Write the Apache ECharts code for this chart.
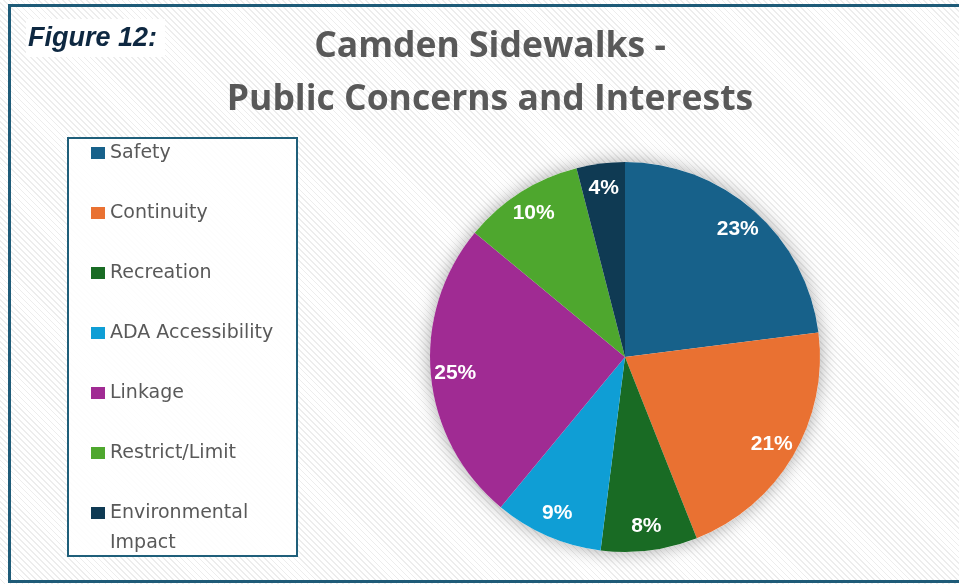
<!DOCTYPE html>
<html><head><meta charset="utf-8">
<script src="https://cdn.jsdelivr.net/npm/echarts@6/dist/echarts.min.js"></script>
<style>
html,body{margin:0;padding:0;}
body{width:959px;height:584px;overflow:hidden;background:repeating-linear-gradient(45deg,#ffffff 0px,#ffffff 3px,#ededed 3px,#ededed 4.2px);}
#chart{width:959px;height:584px;}
</style></head><body><div id="chart"></div>
<script>
const categories = ['Safety','Continuity','Recreation','ADA Accessibility','Linkage','Restrict/Limit','Environmental Impact'];
const values = [23, 21, 8, 9, 25, 10, 4];
const colors = ['#17618A','#E97132','#196B24','#0F9ED5','#A02B93','#4EA72E','#0F3A53'];
const titleText = 'Camden Sidewalks -\nPublic Concerns and Interests';
const figureLabel = 'Figure 12:';

const pieData = categories.map((c, i) => ({ name: c, value: values[i], itemStyle: { color: colors[i] } }));

const chart = echarts.init(document.getElementById('chart'), null, { renderer: 'canvas' });
chart.setOption({
  backgroundColor: 'transparent',
  animation: false,
  title: {
    text: titleText,
    left: 490,
    top: 20,
    padding: 0,
    textAlign: 'center',
    textStyle: { fontFamily: 'Open Sans', fontWeight: 'bold', fontSize: 35.5, color: '#595959', lineHeight: 53 }
  },
  graphic: [
    { type: 'rect', z: -10, shape: { x: 9.5, y: 5.5, width: 960, height: 576 }, style: { fill: 'none', stroke: '#1E5B78', lineWidth: 3 } },
    { type: 'rect', z: -10, shape: { x: 68, y: 138, width: 229, height: 418 }, style: { fill: 'rgba(255,255,255,0.85)', stroke: '#1F5F7A', lineWidth: 2 } },
    { type: 'rect', z: -10, shape: { x: 26, y: 19, width: 139, height: 38 }, style: { fill: '#ffffff' } },
    { type: 'text', z: 10, x: 28, y: 39, style: { text: figureLabel, fill: '#0E2841', font: 'italic bold 27px "Liberation Sans"', verticalAlign: 'middle', align: 'left' } }
  ],
  legend: {
    orient: 'vertical',
    left: 91,
    top: 108,
    height: 600,
    padding: 0,
    itemGap: -30,
    itemWidth: 14,
    itemHeight: 12,
    icon: 'rect',
    selectedMode: false,
    data: categories,
    formatter: name => name === 'Environmental Impact' ? '{e|}\n{t|Environmental}\n{t|Impact}' : '{e|}\n{t|' + name + '}\n{e|}',
    textStyle: {
      fontFamily: 'DejaVu Sans', fontSize: 19, color: '#595959', lineHeight: 30,
      rich: {
        t: { fontFamily: 'DejaVu Sans', fontSize: 19, color: '#595959', lineHeight: 30 },
        e: { fontSize: 19, lineHeight: 30, width: 1 }
      }
    }
  },
  series: [
    {
      type: 'pie', silent: true, z: 1,
      center: [625, 357], radius: 195,
      data: [{ name: '', value: 1 }],
      itemStyle: { color: '#ffffff', shadowBlur: 18, shadowColor: 'rgba(0,0,0,0.35)' },
      label: { show: false }, labelLine: { show: false }
    },
    {
      type: 'pie', z: 2,
      center: [625, 357], radius: 195,
      startAngle: 90, clockwise: true,
      data: pieData,
      label: { show: false }, labelLine: { show: false },
      itemStyle: { borderWidth: 0 }
    },
    {
      type: 'pie', z: 3, silent: true,
      center: [625, 357], radius: [140, 195],
      startAngle: 90, clockwise: true,
      data: categories.map((c, i) => ({ name: c, value: values[i] })),
      itemStyle: { color: 'rgba(0,0,0,0)' },
      label: { show: true, position: 'inside', formatter: p => p.value + '%', color: '#ffffff', fontFamily: 'Liberation Sans', fontWeight: 'bold', fontSize: 21 },
      labelLine: { show: false }
    }
  ]
});
</script></body></html>
